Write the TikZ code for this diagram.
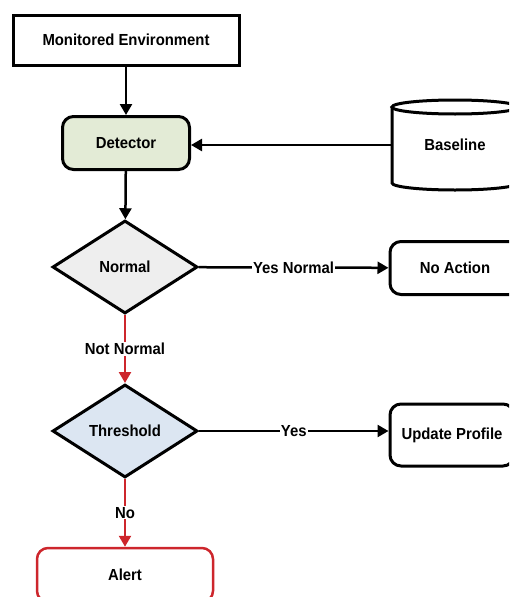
\documentclass[tikz,border=0pt]{standalone}
\usepackage{fontspec}
\setmainfont{Liberation Sans}[FakeStretch=0.93]
\usetikzlibrary{shapes.geometric,arrows.meta}
\newlength{\du}
\setlength{\du}{1pt}
\definecolor{detectorfill}{RGB}{227,235,214}
\definecolor{normalfill}{RGB}{238,238,238}
\definecolor{thresholdfill}{RGB}{220,230,242}
\definecolor{alertred}{RGB}{205,38,44}
\tikzset{
  labelfont/.style={font=\fontsize{16}{18}\selectfont\bfseries},
  box/.style={draw, line width=3\du, inner sep=0pt, labelfont},
  roundbox/.style={box, rounded corners=11\du},
  decision/.style={diamond, draw, line width=3\du, inner sep=0pt, aspect=1.55,
    minimum width=145\du, minimum height=93\du, labelfont},
  flow/.style={line width=2.5\du, -{Triangle[length=11pt,width=12pt]}},
  redflow/.style={flow, draw=alertred},
  flowlabel/.style={fill=white, inner sep=1\du, text=black, labelfont}
}

\begin{document}
\begin{tikzpicture}
\pgftransformxscale{1.000000}
\pgftransformyscale{-1.000000}
\useasboundingbox (0\du,0\du) rectangle (509\du,597\du);
\clip (0\du,0\du) rectangle (509\du,597\du);
% boxes
\node[box, minimum width=226\du, minimum height=50\du] (monitored) at (126\du,40\du) {Monitored Environment};
\node[roundbox, fill=detectorfill, minimum width=127\du, minimum height=53\du] (detector) at (126\du,143\du) {Detector};
\node[box, draw=none, minimum width=126\du, minimum height=90\du] (baseline) at (455\du,145\du) {Baseline};
% baseline cylinder
\draw[line width=3\du] (455\du,107\du) ellipse [x radius=63\du, y radius=7\du];
\draw[line width=3\du] (392\du,107\du) -- (392\du,183\du)
  arc [start angle=180, end angle=0, x radius=63\du, y radius=7\du] -- (518\du,107\du);
\node[decision, fill=normalfill] (normal) at (125\du,267\du) {Normal};
\node[roundbox, minimum width=130\du, minimum height=53\du] (noaction) at (455\du,268\du) {No Action};
\node[decision, fill=thresholdfill] (threshold) at (125\du,431\du) {Threshold};
\node[roundbox, minimum width=124\du, minimum height=62\du] (update) at (452\du,435\du) {Update Profile};
\node[roundbox, draw=alertred, line width=2.5\du, minimum width=176\du, minimum height=54\du] (alert) at (125\du,575\du) {Alert};
% connectors
\draw[flow] (monitored) -- (detector);
\draw[flow] (baseline.west) -- (baseline.west -| detector.east);
\draw[flow] (detector) -- (normal);
\draw[flow] (normal) -- node[flowlabel]{Yes Normal} (noaction);
\draw[redflow] (normal) -- node[flowlabel]{Not Normal} (threshold);
\draw[flow] (threshold.east) -- node[flowlabel]{Yes} (threshold.east -| update.west);
\draw[redflow] (threshold) -- node[flowlabel]{No} (alert);
\end{tikzpicture}
\end{document}
